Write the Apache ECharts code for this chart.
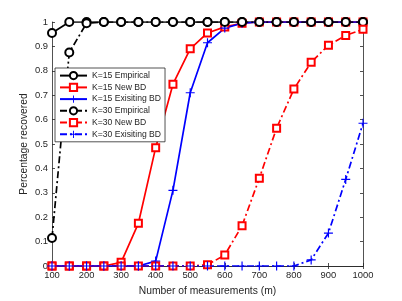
<!DOCTYPE html>
<html><head><meta charset="utf-8">
<script src="https://cdn.jsdelivr.net/npm/echarts@6/dist/echarts.min.js"></script>
<style>html,body{margin:0;padding:0;background:#fff}#c{width:402px;height:301px}</style>
</head><body><div id="c"></div>
<script>
var categories = [100,150,200,250,300,350,400,450,500,550,600,650,700,750,800,850,900,950,1000];
var k15Empirical = [0.955,1,1,1,1,1,1,1,1,1,1,1,1,1,1,1,1,1,1];
var k15NewBD = [0,0,0,0,0.015,0.175,0.485,0.745,0.89,0.955,0.98,0.995,1,1,1,1,1,1,1];
var k15ExistingBD = [0,0,0,0,0,0,0.02,0.31,0.71,0.915,0.975,0.995,1,1,1,1,1,1,1];
var k30Empirical = [0.115,0.875,0.995,1,1,1,1,1,1,1,1,1,1,1,1,1,1,1,1];
var k30NewBD = [0,0,0,0,0,0,0,0,0,0.005,0.045,0.165,0.36,0.565,0.725,0.835,0.905,0.945,0.97];
var k30ExistingBD = [0,0,0,0,0,0,0,0,0,0,0,0,0,0,0,0.025,0.135,0.355,0.585];
var seriesNames = ['K=15 Empirical','K=15 New BD','K=15 Exisiting BD','K=30 Empirical','K=30 New BD','K=30 Exisiting BD'];
var xTicks = [100,200,300,400,500,600,700,800,900,1000];

function pairs(v){ return categories.map(function(x,i){ return [x, v[i]]; }); }
var plus = 'path://M-1,-0.13H1V0.13H-1Z M-0.13,-1H0.13V1H-0.13Z';
var dashDot = [7,3,2,3];
function mk(name, data, color, sym, size, dashed){
  var isPlus = sym === plus;
  return {
    name: name, type: 'line', data: pairs(data),
    symbol: sym, symbolSize: size, showAllSymbol: true,
    lineStyle: {color: color, width: 1.7, type: dashed ? dashDot : 'solid'},
    itemStyle: isPlus ? {color: color, borderWidth: 0} : {color: color, borderColor: color, borderWidth: 1.6},
    emphasis: {disabled: true}, animation: false
  };
}
var axisCol = '#262626';
var font = 'Liberation Sans, Arial, sans-serif';
var chart = echarts.init(document.getElementById('c'), null, {renderer: 'canvas'});
chart.setOption({
  animation: false,
  grid: {left: 52, right: 39, top: 22, bottom: 33, containLabel: false},
  legend: {
    orient: 'vertical', left: 55, top: 68,
    data: seriesNames,
    itemWidth: 27, itemHeight: 9, itemGap: 2.6,
    padding: [3, 4, 3, 4],
    backgroundColor: '#fff', borderColor: axisCol, borderWidth: 0.8, borderRadius: 0,
    textStyle: {fontFamily: font, fontSize: 8.6, color: axisCol},
    selectedMode: false
  },
  xAxis: [{
    type: 'value', min: 100, max: 1000, interval: 100,
    name: 'Number of measurements (m)', nameLocation: 'middle', nameGap: 20, nameMoveOverlap: false,
    nameTextStyle: {fontFamily: font, fontSize: 10.3, color: axisCol},
    axisLine: {show: true, lineStyle: {color: axisCol, width: 0.8}},
    axisTick: {show: true, inside: true, length: 3, lineStyle: {color: axisCol, width: 0.8}},
    axisLabel: {fontFamily: font, fontSize: 9.4, color: axisCol, margin: 5,
      formatter: function(v){ return String(v); }},
    splitLine: {show: false}
  },{
    type: 'value', position: 'top', min: 100, max: 1000, interval: 100,
    axisLine: {show: true, lineStyle: {color: axisCol, width: 0.8}},
    axisTick: {show: true, inside: true, length: 3, lineStyle: {color: axisCol, width: 0.8}},
    axisLabel: {show: false}, splitLine: {show: false}
  }],
  yAxis: [{
    type: 'value', min: 0, max: 1, interval: 0.1,
    name: 'Percentage recovered', nameLocation: 'middle', nameGap: 23, nameRotate: 90, nameMoveOverlap: false,
    nameTextStyle: {fontFamily: font, fontSize: 10.3, color: axisCol},
    axisLine: {show: true, lineStyle: {color: axisCol, width: 0.8}},
    axisTick: {show: true, inside: true, length: 3, lineStyle: {color: axisCol, width: 0.8}},
    axisLabel: {fontFamily: font, fontSize: 9.4, color: axisCol, margin: 4,
      formatter: function(v){ return String(Math.round(v*10)/10); }},
    splitLine: {show: false}
  },{
    type: 'value', position: 'right', min: 0, max: 1, interval: 0.1,
    axisLine: {show: true, lineStyle: {color: axisCol, width: 0.8}},
    axisTick: {show: true, inside: true, length: 3, lineStyle: {color: axisCol, width: 0.8}},
    axisLabel: {show: false}, splitLine: {show: false}
  }],
  series: [
    mk(seriesNames[0], k15Empirical, '#000000', 'emptyCircle', 8, false),
    mk(seriesNames[1], k15NewBD, '#ff0000', 'emptyRect', 7, false),
    mk(seriesNames[2], k15ExistingBD, '#0000ff', plus, 9, false),
    mk(seriesNames[3], k30Empirical, '#000000', 'emptyCircle', 8, true),
    mk(seriesNames[4], k30NewBD, '#ff0000', 'emptyRect', 7, true),
    mk(seriesNames[5], k30ExistingBD, '#0000ff', plus, 9, true)
  ]
});
</script></body></html>
